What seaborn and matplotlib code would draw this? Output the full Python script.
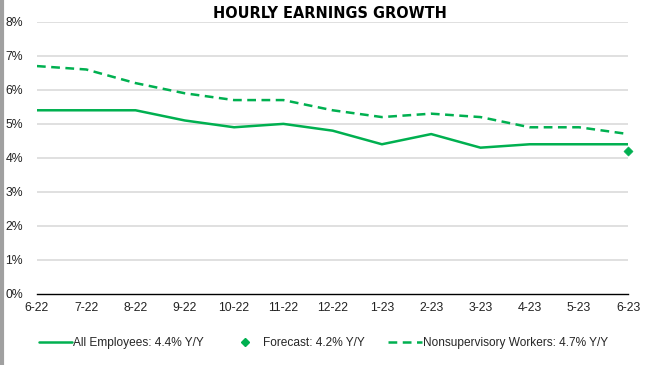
import pandas as pd
import numpy as np
import matplotlib
matplotlib.use("Agg")
import matplotlib.pyplot as plt
import seaborn as sns
from matplotlib.lines import Line2D

# ======================================
# DATA
# ======================================

months = ["6-22", "7-22", "8-22", "9-22", "10-22", "11-22", "12-22",
          "1-23", "2-23", "3-23", "4-23", "5-23", "6-23"]
all_employees = [5.4, 5.4, 5.4, 5.1, 4.9, 5.0, 4.8, 4.4, 4.7, 4.3, 4.4, 4.4, 4.4]
nonsupervisory = [6.7, 6.6, 6.2, 5.9, 5.7, 5.7, 5.4, 5.2, 5.3, 5.2, 4.9, 4.9, 4.7]
forecast_month = ["6-23"]
forecast_value = [4.2]
y_ticks = [0, 1, 2, 3, 4, 5, 6, 7, 8]

green = "#00b050"

df = pd.DataFrame({
    "month": months,
    "pos": np.arange(len(months)),
    "All Employees": all_employees,
    "Nonsupervisory": nonsupervisory,
})
fc = pd.DataFrame({
    "pos": [months.index(m) for m in forecast_month],
    "value": forecast_value,
})

# ======================================
# PLOT
# ======================================

sns.set_style("white")
plt.rcParams["font.family"] = ["Liberation Sans", "DejaVu Sans"]

fig = plt.figure(figsize=(6.6, 3.65), dpi=100)
ax = fig.add_axes([0.056, 0.195, 0.896, 0.745])

sns.lineplot(data=df, x="pos", y="All Employees", color=green, lw=1.8, ax=ax)
sns.lineplot(data=df, x="pos", y="Nonsupervisory", color=green, lw=1.8,
             linestyle=(0, (3.5, 2.2)), ax=ax)
sns.scatterplot(data=fc, x="pos", y="value", color=green, marker="D", s=22,
                edgecolor=green, zorder=5, ax=ax, clip_on=False)

ax.set_xlim(0, len(months) - 1)
ax.set_ylim(0, 8)
ax.set_yticks(y_ticks)
ax.set_yticklabels([f"{t}%" for t in y_ticks], fontsize=8.8)
ax.set_xticks(df["pos"])
ax.set_xticklabels(months, fontsize=8.8)
ax.set_xlabel("")
ax.set_ylabel("")

for t in y_ticks[1:]:
    ax.axhline(t, color="#e0e0e0", lw=1.4, zorder=0)

for s in ["top", "right", "left"]:
    ax.spines[s].set_visible(False)
ax.spines["bottom"].set_color("black")
ax.spines["bottom"].set_linewidth(1.0)
ax.tick_params(axis="x", direction="inout", length=8, width=1, color="black",
               pad=2, labelcolor="#222222")
ax.tick_params(axis="y", length=0, pad=10, labelcolor="#222222")

fig.text(0.5, 0.963, "HOURLY EARNINGS GROWTH", ha="center", va="center",
         fontsize=11.6, fontweight="bold", fontstretch="condensed",
         color="black", family=["DejaVu Sans"])

# left grey border
fig.add_artist(Line2D([0.003, 0.003], [0, 1], color="#a0a0a0", lw=3,
                      transform=fig.transFigure))

handles = [
    Line2D([], [], color=green, lw=1.8),
    Line2D([], [], color=green, marker="D", markersize=4.5, lw=0),
    Line2D([], [], color=green, lw=1.8, linestyle=(0, (3.5, 2.2))),
]
labels = ["All Employees: 4.4% Y/Y", "Forecast: 4.2% Y/Y",
          "Nonsupervisory Workers: 4.7% Y/Y"]
fig.legend(handles, labels, loc="center", bbox_to_anchor=(0.49, 0.06),
           ncol=3, frameon=False, fontsize=8.6, handlelength=2.8,
           handletextpad=0.1, columnspacing=2.0)

fig.savefig("out.png", dpi=100)
